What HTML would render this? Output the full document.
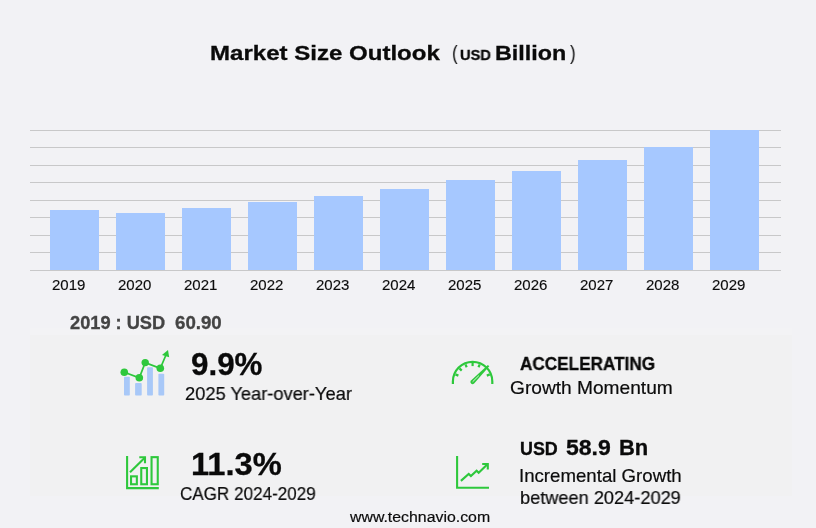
<!DOCTYPE html>
<html>
<head>
<meta charset="utf-8">
<style>
html,body{margin:0;padding:0;}
body{width:816px;height:528px;background:#f2f2f5;position:relative;overflow:hidden;font-family:"Liberation Sans",sans-serif;color:#111;}
.t{position:absolute;white-space:nowrap;line-height:1;transform-origin:0 0;will-change:transform;}
.panel{position:absolute;left:30px;top:335px;width:762px;height:161px;background:#f1f1f2;}
.panel2{position:absolute;left:30px;top:328px;width:762px;height:7px;background:#f3f3f5;}
.grid{position:absolute;left:30px;width:751px;height:1px;background:#c8c8c9;}
.bar{position:absolute;width:49px;background:#a6c8ff;}
.yl{position:absolute;white-space:nowrap;line-height:1;font-size:15px;top:277px;color:#0c0c0c;-webkit-text-stroke:0.15px #0c0c0c;will-change:transform;}
.ic{position:absolute;}
</style>
</head>
<body>
<div class="panel2"></div>
<div class="panel"></div>

<!-- title -->
<div class="t" id="t1" style="left:209.5px;top:43.2px;font-size:20.5px;font-weight:bold;color:#0a0a0a;-webkit-text-stroke:0.3px #0a0a0a;transform:scaleX(1.173)">Market Size Outlook</div>
<div class="t" id="t2" style="left:451.8px;top:43px;font-size:20px;color:#0a0a0a;transform:scaleX(0.85)">(</div>
<div class="t" id="t3" style="left:460.0px;top:46.8px;font-size:15.0px;font-weight:bold;color:#0a0a0a;-webkit-text-stroke:0.3px #0a0a0a;transform:scaleX(0.979)">USD</div>
<div class="t" id="t4" style="left:494.7px;top:42.6px;font-size:20.5px;font-weight:bold;color:#0a0a0a;-webkit-text-stroke:0.3px #0a0a0a;transform:scaleX(1.137)">Billion</div>
<div class="t" id="t5" style="left:570.2px;top:43px;font-size:20px;color:#0a0a0a;transform:scaleX(0.85)">)</div>

<!-- gridlines -->
<div class="grid" style="top:130px"></div>
<div class="grid" style="top:147px"></div>
<div class="grid" style="top:165px"></div>
<div class="grid" style="top:182px"></div>
<div class="grid" style="top:200px"></div>
<div class="grid" style="top:217px"></div>
<div class="grid" style="top:235px"></div>
<div class="grid" style="top:252px"></div>
<div class="grid" style="top:270px"></div>

<!-- bars -->
<div class="bar" style="left:50px;top:210px;height:60px"></div>
<div class="bar" style="left:116px;top:213px;height:57px"></div>
<div class="bar" style="left:182px;top:208px;height:62px"></div>
<div class="bar" style="left:248px;top:202px;height:68px"></div>
<div class="bar" style="left:314px;top:196px;height:74px"></div>
<div class="bar" style="left:380px;top:189px;height:81px"></div>
<div class="bar" style="left:446px;top:180px;height:90px"></div>
<div class="bar" style="left:512px;top:171px;height:99px"></div>
<div class="bar" style="left:578px;top:160px;height:110px"></div>
<div class="bar" style="left:644px;top:147px;height:123px"></div>
<div class="bar" style="left:710px;top:130px;height:140px"></div>

<!-- year labels -->
<div class="yl" style="left:52px">2019</div>
<div class="yl" style="left:118px">2020</div>
<div class="yl" style="left:184px">2021</div>
<div class="yl" style="left:250px">2022</div>
<div class="yl" style="left:316px">2023</div>
<div class="yl" style="left:382px">2024</div>
<div class="yl" style="left:448px">2025</div>
<div class="yl" style="left:514px">2026</div>
<div class="yl" style="left:580px">2027</div>
<div class="yl" style="left:646px">2028</div>
<div class="yl" style="left:712px">2029</div>

<!-- base year -->
<div class="t" id="b1" style="left:69.7px;top:315.2px;font-size:17.7px;font-weight:bold;color:#444444;-webkit-text-stroke:0.3px #444444;transform:scaleX(1.03)">2019 : USD</div>
<div class="t" id="b2" style="left:174.5px;top:315.2px;font-size:17.7px;font-weight:bold;color:#444444;-webkit-text-stroke:0.3px #444444;transform:scaleX(1.056)">60.90</div>

<!-- stat 1 -->
<div class="t" id="s1a" style="left:190.7px;top:348.6px;font-size:31.0px;font-weight:bold;color:#0a0a0a;-webkit-text-stroke:0.3px #0a0a0a;transform:scaleX(1.0106)">9.9%</div>
<div class="t" id="s1b" style="left:184.6px;top:384.8px;font-size:18.4px;font-weight:normal;color:#0c0c0c;-webkit-text-stroke:0.2px #0c0c0c;transform:scaleX(0.993)">2025 Year-over-Year</div>
<!-- stat 2 -->
<div class="t" id="s2a" style="left:519.9px;top:355.9px;font-size:17.7px;font-weight:bold;color:#0a0a0a;-webkit-text-stroke:0.3px #0a0a0a;transform:scaleX(0.97)">ACCELERATING</div>
<div class="t" id="s2b" style="left:509.7px;top:379.2px;font-size:18.4px;font-weight:normal;color:#0c0c0c;-webkit-text-stroke:0.2px #0c0c0c;transform:scaleX(1.0408)">Growth Momentum</div>
<!-- stat 3 -->
<div class="t" id="s3a" style="left:190.5px;top:448.9px;font-size:31.0px;font-weight:bold;color:#0a0a0a;-webkit-text-stroke:0.3px #0a0a0a;transform:scaleX(1.0537)">11.3%</div>
<div class="t" id="s3b" style="left:180.0px;top:484.8px;font-size:18.4px;font-weight:normal;color:#0c0c0c;-webkit-text-stroke:0.2px #0c0c0c;transform:scaleX(0.928)">CAGR 2024-2029</div>
<!-- stat 4 -->
<div class="t" id="s4a" style="left:520.1px;top:440.7px;font-size:17.7px;font-weight:bold;color:#0a0a0a;-webkit-text-stroke:0.3px #0a0a0a;transform:scaleX(1.0123)">USD</div>
<div class="t" id="s4b" style="left:565.6px;top:436.6px;font-size:21.2px;font-weight:bold;color:#0a0a0a;-webkit-text-stroke:0.3px #0a0a0a;transform:scaleX(1.087)">58.9</div>
<div class="t" id="s4c" style="left:618.9px;top:437.4px;font-size:21.2px;font-weight:bold;color:#0a0a0a;-webkit-text-stroke:0.3px #0a0a0a;transform:scaleX(1.0364)">Bn</div>
<div class="t" id="s4d" style="left:519.2px;top:466.6px;font-size:18.4px;font-weight:normal;color:#0c0c0c;-webkit-text-stroke:0.2px #0c0c0c;transform:scaleX(1.0139)">Incremental Growth</div>
<div class="t" id="s4e" style="left:520.2px;top:488.6px;font-size:18.4px;font-weight:normal;color:#0c0c0c;-webkit-text-stroke:0.2px #0c0c0c;transform:scaleX(0.989)">between 2024-2029</div>
<!-- footer -->
<div class="t" id="f1" style="left:350.2px;top:508.8px;font-size:15.4px;font-weight:normal;color:#0c0c0c;-webkit-text-stroke:0.2px #0c0c0c;transform:scaleX(1.03)">www.technavio.com</div>

<!-- icons -->
<svg class="ic" id="icons" style="left:0;top:0" width="816" height="528" viewBox="0 0 816 528">
<!-- icon 1: bars + trend line -->
<g id="ic1">
<g fill="#a8c8f8">
<rect x="124" y="376.8" width="5.8" height="18.8" rx="0.8"/>
<rect x="135.1" y="383.1" width="6.6" height="12.5" rx="0.8"/>
<rect x="147.1" y="367.2" width="5.8" height="28.4" rx="0.8"/>
<rect x="158.4" y="373.8" width="5.8" height="21.8" rx="0.8"/>
</g>
<polyline points="124.3,372.2 139.3,377.8 145.2,362.6 160.3,368.3 166.6,353.5" fill="none" stroke="#2ec83c" stroke-width="1.7"/>
<g fill="#2ec83c">
<circle cx="124.3" cy="372.2" r="3.8"/>
<circle cx="139.3" cy="377.8" r="3.8"/>
<circle cx="145.2" cy="362.6" r="3.7"/>
<circle cx="160.3" cy="368.3" r="3.8"/>
<polygon points="168,350 169.2,357.3 162,354.9"/>
</g>
</g>
<!-- icon 2: gauge -->
<g id="ic2" fill="none" stroke="#2ec83c">
<path d="M452.9,383.9 V381.5 A19.7,19.7 0 0 1 492.3,381.5 V383.9" stroke-width="2.2"/>
<g stroke-width="2.2"><line x1="489.78" y1="374.38" x2="486.83" y2="375.61"/><line x1="479.72" y1="364.32" x2="478.49" y2="367.27"/><line x1="472.60" y1="362.90" x2="472.60" y2="366.10"/><line x1="465.48" y1="364.32" x2="466.71" y2="367.27"/><line x1="459.45" y1="368.35" x2="461.71" y2="370.61"/><line x1="455.42" y1="374.38" x2="458.37" y2="375.61"/></g>
<path d="M471.0,380.4 L487.9,364.9 L489.3,366.2 L474.1,383.4 A2.15,2.15 0 0 1 471.0,380.4 Z" fill="#2ec83c" stroke="none"/>
<line x1="472.9" y1="381.5" x2="478.6" y2="375.9" stroke="#f1f5f1" stroke-width="0.9" stroke-linecap="round"/>
</g>
<!-- icon 3: bar chart outline -->
<g id="ic3" fill="none" stroke="#2ec83c" stroke-width="2.1">
<path d="M127.1,456.1 V488.1 H158.8"/>
<rect x="131.05" y="476.35" width="5.8" height="7.9"/>
<rect x="141.25" y="468.05" width="5.7" height="16.2"/>
<rect x="151.55" y="457.15" width="6.2" height="27.1"/>
<path d="M130.0,472.3 L145,457.4"/>
<path d="M139.3,457.3 H145 V463.2"/>
</g>
<!-- icon 4: line chart -->
<g id="ic4" fill="none" stroke="#2ec83c" stroke-width="2.1">
<path d="M457.1,455.9 V487.8 H489"/>
<path d="M460.9,480.9 L468.7,474 L470.9,476.1 L476.6,470.7 L478.7,472.8 L487.7,464.1"/>
<path d="M482.2,464 H487.8 V469.4"/>
</g>
</svg>
</body>
</html>
